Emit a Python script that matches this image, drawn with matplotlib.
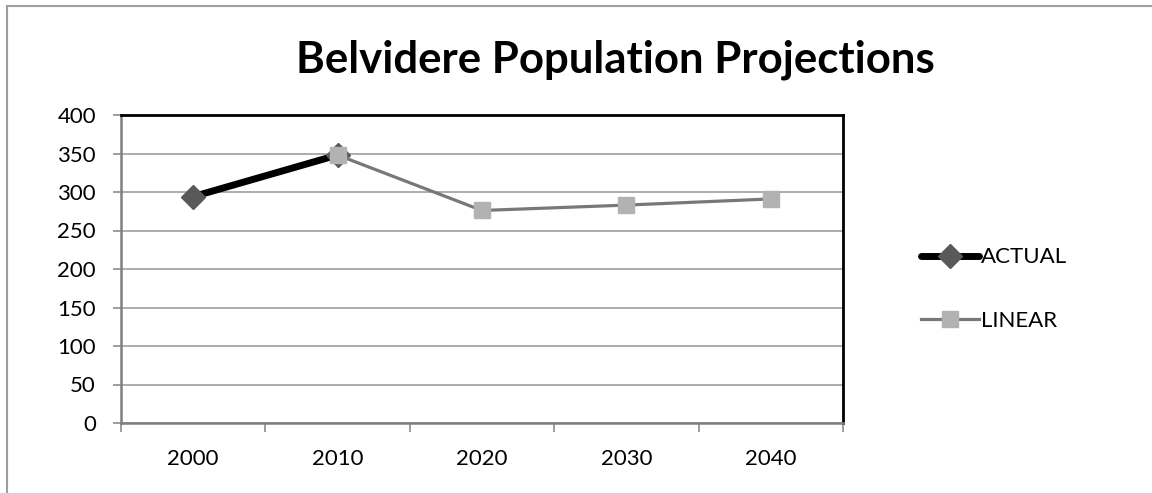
import matplotlib.pyplot as plt
from matplotlib.patches import Rectangle
from matplotlib.lines import Line2D

# chart data
years = ['2000', '2010', '2020', '2030', '2040']
actual = [294, 348]
linear = [None, 348, 276, 283, 291]

W, H = 1152, 493
fig = plt.figure(figsize=(W / 100, H / 100), dpi=100)
plt.rcParams['font.family'] = ['Lato', 'DejaVu Sans']

# outer chart frame (cropped on right and bottom)
fig.patches.append(Rectangle((7 / W, -0.1), 1.2, 1.1 - 6 / H,
                             transform=fig.transFigure, fill=False,
                             edgecolor='#a0a0a0', linewidth=1.5))

ax = fig.add_axes([121 / W, 70 / H, 722 / W, 308 / H])
x = [i + 0.5 for i in range(len(years))]

act_style = dict(color='black', linewidth=5, marker='D', markersize=12,
                 markerfacecolor='#595959', markeredgecolor='#595959',
                 solid_capstyle='round')
lin_style = dict(color='#787878', linewidth=2.3, marker='s', markersize=12,
                 markerfacecolor='#b2b2b2', markeredgecolor='#b2b2b2')

ax.plot(x[:len(actual)], actual, zorder=3, **act_style)
lx = [xi for xi, v in zip(x, linear) if v is not None]
ly = [v for v in linear if v is not None]
ax.plot(lx, ly, zorder=4, **lin_style)

ax.set_xlim(0, len(years))
ax.set_ylim(0, 400)
ax.set_yticks(range(0, 401, 50))
ax.set_xticks(range(len(years) + 1))
ax.set_xticklabels([])
ax.set_xticks(x, minor=True)
ax.set_xticklabels(years, minor=True)
ax.tick_params(axis='x', which='minor', length=0, pad=19, labelsize=16)
ax.tick_params(axis='x', which='major', length=6.5, width=1.2,
               color='#8c8c8c', direction='out')
ax.tick_params(axis='y', length=6, width=1.2, color='#8c8c8c',
               labelsize=16, pad=12)
ax.grid(axis='y', color='#a6a6a6', linewidth=1.3)
ax.set_axisbelow(True)
for s in ['top', 'right']:
    ax.spines[s].set_color('black')
    ax.spines[s].set_linewidth(2)
for s in ['left', 'bottom']:
    ax.spines[s].set_color('#808080')
    ax.spines[s].set_linewidth(1.8)

fig.text(615 / W, 1 - 73 / H, 'Belvidere Population Projections',
         fontsize=31.5, fontweight='bold', ha='center', va='baseline')

handles = [Line2D([], [], **act_style), Line2D([], [], **lin_style)]
fig.legend(handles, ['ACTUAL', 'LINEAR'], loc='center left',
           bbox_to_anchor=(901 / W, 1 - 289 / H), frameon=False,
           fontsize=16, handlelength=2.6, handletextpad=0.1,
           labelspacing=1.95)

fig.savefig('out.png', dpi=100)
